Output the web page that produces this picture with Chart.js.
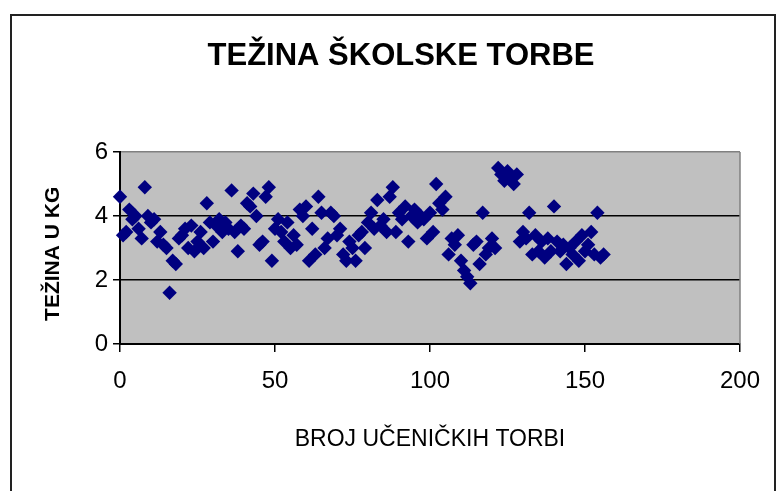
<!DOCTYPE html>
<html>
<head>
<meta charset="utf-8">
<script src="https://cdn.jsdelivr.net/npm/chart.js@4.4.1/dist/chart.umd.min.js"></script>
<style>
  html, body { margin: 0; padding: 0; background: #fff; overflow: hidden; }
  #wrap { position: relative; width: 781px; height: 491px; }
  #frame { position: absolute; left: 10px; top: 14px; width: 766px; height: 520px; border: 2px solid #222; box-sizing: border-box; pointer-events: none; }
  canvas { position: absolute; left: 0; top: 0; }
</style>
</head>
<body>
<div id="wrap">
  <canvas id="c" width="781" height="491"></canvas>
  <div id="frame"></div>
</div>
<script>
const chartTitle = "TEŽINA ŠKOLSKE TORBE";
const xTitle = "BROJ UČENIČKIH TORBI";
const yTitle = "TEŽINA U KG";
const xTicks = [0, 50, 100, 150, 200];
const yTicks = [0, 2, 4, 6];

// bag index (x) and weight in kg (y)
const bagIndex = [];
for (let i = 0; i <= 156; i++) bagIndex.push(i);
const bagWeight = [
  4.6, 3.4, 3.5, 4.2, 3.9, 4.0, 3.6, 3.3, 4.9, 4.0,
  3.8, 3.9, 3.2, 3.5, 3.1, 3.0, 1.6, 2.6, 2.5, 3.3,
  3.4, 3.6, 3.0, 3.7, 2.9, 3.2, 3.5, 3.0, 4.4, 3.8,
  3.2, 3.7, 3.9, 3.5, 3.8, 3.6, 4.8, 3.5, 2.9, 3.7,
  3.6, 4.4, 4.3, 4.7, 4.0, 3.1, 3.2, 4.6, 4.9, 2.6,
  3.6, 3.9, 3.5, 3.2, 3.8, 3.0, 3.4, 3.1, 4.2, 4.0,
  4.3, 2.6, 3.6, 2.8, 4.6, 4.1, 3.0, 3.3, 4.1, 4.0,
  3.4, 3.6, 2.8, 2.6, 3.2, 3.0, 2.6, 3.4, 3.5, 3.0,
  3.8, 4.1, 3.6, 4.5, 3.7, 3.9, 3.5, 4.6, 4.9, 3.5,
  4.1, 3.9, 4.3, 3.2, 4.0, 4.2, 3.8, 4.0, 3.9, 3.3,
  4.1, 3.5, 5.0, 4.4, 4.2, 4.6, 2.8, 3.3, 3.1, 3.4,
  2.6, 2.3, 2.1, 1.9, 3.1, 3.2, 2.5, 4.1, 2.8, 3.0,
  3.3, 3.0, 5.5, 5.3, 5.1, 5.4, 5.2, 5.0, 5.3, 3.2,
  3.5, 3.3, 4.1, 2.8, 3.4, 2.9, 3.2, 2.7, 3.3, 2.9,
  4.3, 3.2, 2.9, 3.1, 2.5, 3.0, 2.8, 3.2, 2.6, 3.4,
  2.9, 3.1, 3.5, 2.8, 4.1, 2.7, 2.8
];

const points = bagIndex.map((x, i) => ({ x: x, y: bagWeight[i] }));

const FONT = "'Liberation Sans', Arial, sans-serif";

const plotBg = {
  id: 'plotBg',
  beforeDraw(chart) {
    const { ctx, chartArea: a } = chart;
    ctx.save();
    ctx.fillStyle = '#c0c0c0';
    ctx.fillRect(a.left, a.top, a.right - a.left, a.bottom - a.top);
    ctx.restore();
  },
  afterDraw(chart) {
    const { ctx, chartArea: a } = chart;
    ctx.save();
    ctx.strokeStyle = '#808080';
    ctx.lineWidth = 1.5;
    ctx.beginPath();
    ctx.moveTo(a.right, a.top);
    ctx.lineTo(a.right, a.bottom);
    ctx.stroke();
    ctx.fillStyle = '#000';
    ctx.font = "bold 31px " + FONT;
    ctx.textAlign = 'center';
    ctx.textBaseline = 'middle';
    ctx.fillText(chartTitle, 401, 56);
    ctx.restore();
  }
};

new Chart(document.getElementById('c'), {
  type: 'scatter',
  data: {
    datasets: [{
      data: points,
      pointStyle: 'rectRot',
      pointRadius: 7.2,
      pointHoverRadius: 7.2,
      backgroundColor: '#000080',
      borderColor: '#000080',
      borderWidth: 0,
      clip: false
    }]
  },
  options: {
    responsive: false,
    animation: false,
    layout: { padding: { top: 152, right: 41, left: 0, bottom: 0 } },
    plugins: { legend: { display: false }, tooltip: { enabled: false }, title: { display: false } },
    scales: {
      x: {
        type: 'linear',
        min: 0, max: 200,
        afterBuildTicks(scale) { scale.ticks = xTicks.map(v => ({ value: v })); },
        afterFit(scale) { scale.height = 147; },
        grid: { drawOnChartArea: false, drawTicks: true, tickLength: 8, color: '#000', lineWidth: 1.5 },
        border: { color: '#000', width: 2 },
        ticks: { color: '#000', font: { family: FONT, size: 24 }, padding: 15, maxRotation: 0 },
        title: { display: true, text: xTitle, color: '#000', font: { family: FONT, size: 23 }, padding: { top: 0, bottom: 38 } }
      },
      y: {
        type: 'linear',
        min: 0, max: 6,
        afterBuildTicks(scale) { scale.ticks = yTicks.map(v => ({ value: v })); },
        afterFit(scale) { scale.width = 120; },
        grid: {
          color: c => (c.tick && c.tick.value === 6) ? '#808080' : '#000',
          lineWidth: 1.5,
          tickLength: 7,
          tickColor: '#000'
        },
        border: { color: '#000', width: 2 },
        ticks: { color: '#000', font: { family: FONT, size: 24 }, padding: 5 },
        title: { display: true, text: yTitle + "  ", color: '#000', font: { family: FONT, size: 21, weight: 'bold' }, padding: { top: 41, bottom: 0 } }
      }
    }
  },
  plugins: [plotBg]
});
</script>
</body>
</html>
